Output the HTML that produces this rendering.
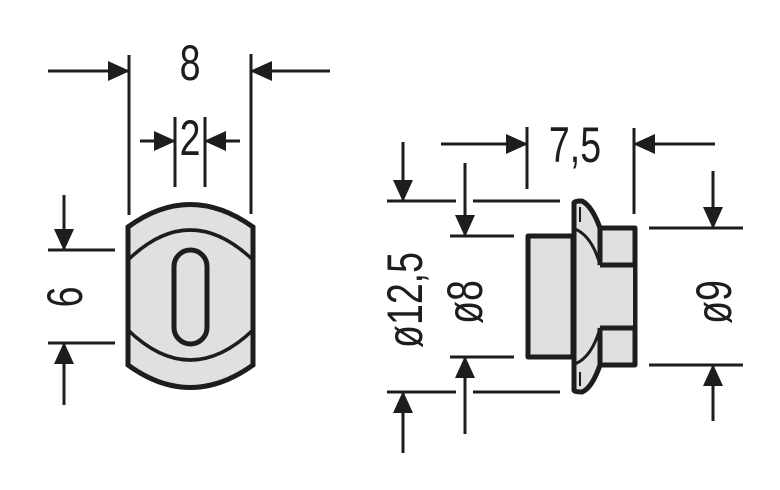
<!DOCTYPE html>
<html><head><meta charset="utf-8"><style>
html,body{margin:0;padding:0;background:#fff;}
svg{display:block;}
text{font-family:"Liberation Sans",sans-serif;font-size:50px;fill:#1d1d1b;}
</style></head><body>
<svg width="780" height="490" viewBox="0 0 780 490" xmlns="http://www.w3.org/2000/svg">
<defs>
<marker id="a" markerWidth="22" markerHeight="20" refX="21" refY="10" orient="auto" markerUnits="userSpaceOnUse">
<path d="M0,0 L22,10 L0,20 Z" fill="#1d1d1b"/></marker>
</defs>
<g stroke="#1d1d1b" stroke-width="3" fill="none">
<!-- left dims -->
<line x1="129" y1="55" x2="129" y2="215"/>
<line x1="251" y1="54" x2="251" y2="214"/>
<line x1="48" y1="71" x2="129" y2="71" marker-end="url(#a)"/>
<line x1="330" y1="71" x2="251" y2="71" marker-end="url(#a)"/>
<line x1="175" y1="117" x2="175" y2="187"/>
<line x1="205" y1="117" x2="205" y2="187"/>
<line x1="140" y1="141" x2="175" y2="141" marker-end="url(#a)"/>
<line x1="240" y1="141" x2="205" y2="141" marker-end="url(#a)"/>
<line x1="48" y1="250" x2="115" y2="250"/>
<line x1="48" y1="343" x2="115" y2="343"/>
<line x1="64" y1="195" x2="64" y2="250" marker-end="url(#a)"/>
<line x1="64" y1="405" x2="64" y2="343" marker-end="url(#a)"/>
<!-- right dims -->
<line x1="527" y1="127" x2="527" y2="189"/>
<line x1="634" y1="128" x2="634" y2="214"/>
<line x1="441" y1="144" x2="527" y2="144" marker-end="url(#a)"/>
<line x1="715" y1="144" x2="634" y2="144" marker-end="url(#a)"/>
<line x1="387" y1="201" x2="456" y2="201"/><line x1="473" y1="201" x2="560" y2="201"/>
<line x1="387" y1="392" x2="456" y2="392"/><line x1="473" y1="392" x2="560" y2="392"/>
<line x1="403" y1="142" x2="403" y2="201" marker-end="url(#a)"/>
<line x1="403" y1="453" x2="403" y2="392" marker-end="url(#a)"/>
<line x1="450" y1="236" x2="514" y2="236"/>
<line x1="450" y1="357" x2="514" y2="357"/>
<line x1="465" y1="163" x2="465" y2="236" marker-end="url(#a)"/>
<line x1="465" y1="434" x2="465" y2="357" marker-end="url(#a)"/>
<line x1="649" y1="228" x2="743" y2="228"/>
<line x1="649" y1="365" x2="743" y2="365"/>
<line x1="713" y1="171" x2="713" y2="228" marker-end="url(#a)"/>
<line x1="713" y1="421" x2="713" y2="365" marker-end="url(#a)"/>
</g>
<!-- left part -->
<g stroke="#1d1d1b" stroke-width="5" fill="#e0e0e0">
<path d="M128,227 Q190,182 253,227 L253,365 Q190,410 128,365 Z"/>
<path d="M128,260 Q190,200 253,260 M128,330 Q190,390 253,330" fill="none" stroke-width="3.5"/>
<rect x="174" y="250" width="33" height="94" rx="16.5"/>
</g>
<!-- right part -->
<g stroke="#1d1d1b" stroke-width="5" fill="#e0e0e0" stroke-linejoin="round">
<rect x="528" y="236" width="45" height="121"/>
<rect x="600" y="228" width="35" height="137"/>
<path d="M574,203 Q574,201 582,201 Q592,206 600,228 L600,365 Q592,388 582,392 Q574,392 574,390 Z"/>
<rect x="597" y="265" width="36" height="63" stroke="none"/>
<path d="M600,265 L635,265 M600,328 L635,328" fill="none"/>
<path d="M575,229 Q592,236 600,265 M575,364 Q592,357 600,328" fill="none" stroke-width="3"/>
<path d="M580,207 L580,222 M580,372 L580,386" fill="none" stroke-width="2"/>
</g>
<g>
<text transform="translate(190,80) scale(0.75,1)" text-anchor="middle">8</text>
<text transform="translate(190,155) scale(0.75,1)" text-anchor="middle">2</text>
<text transform="translate(575,162) scale(0.75,1)" text-anchor="middle">7,5</text>
<text transform="translate(82,297) rotate(-90) scale(0.75,1)" text-anchor="middle">6</text>
<text transform="translate(422,300) rotate(-90) scale(0.75,1)" text-anchor="middle">ø12,5</text>
<text transform="translate(482,302) rotate(-90) scale(0.75,1)" text-anchor="middle">ø8</text>
<text transform="translate(731,302) rotate(-90) scale(0.75,1)" text-anchor="middle">ø9</text>
</g>
</svg>
</body></html>
